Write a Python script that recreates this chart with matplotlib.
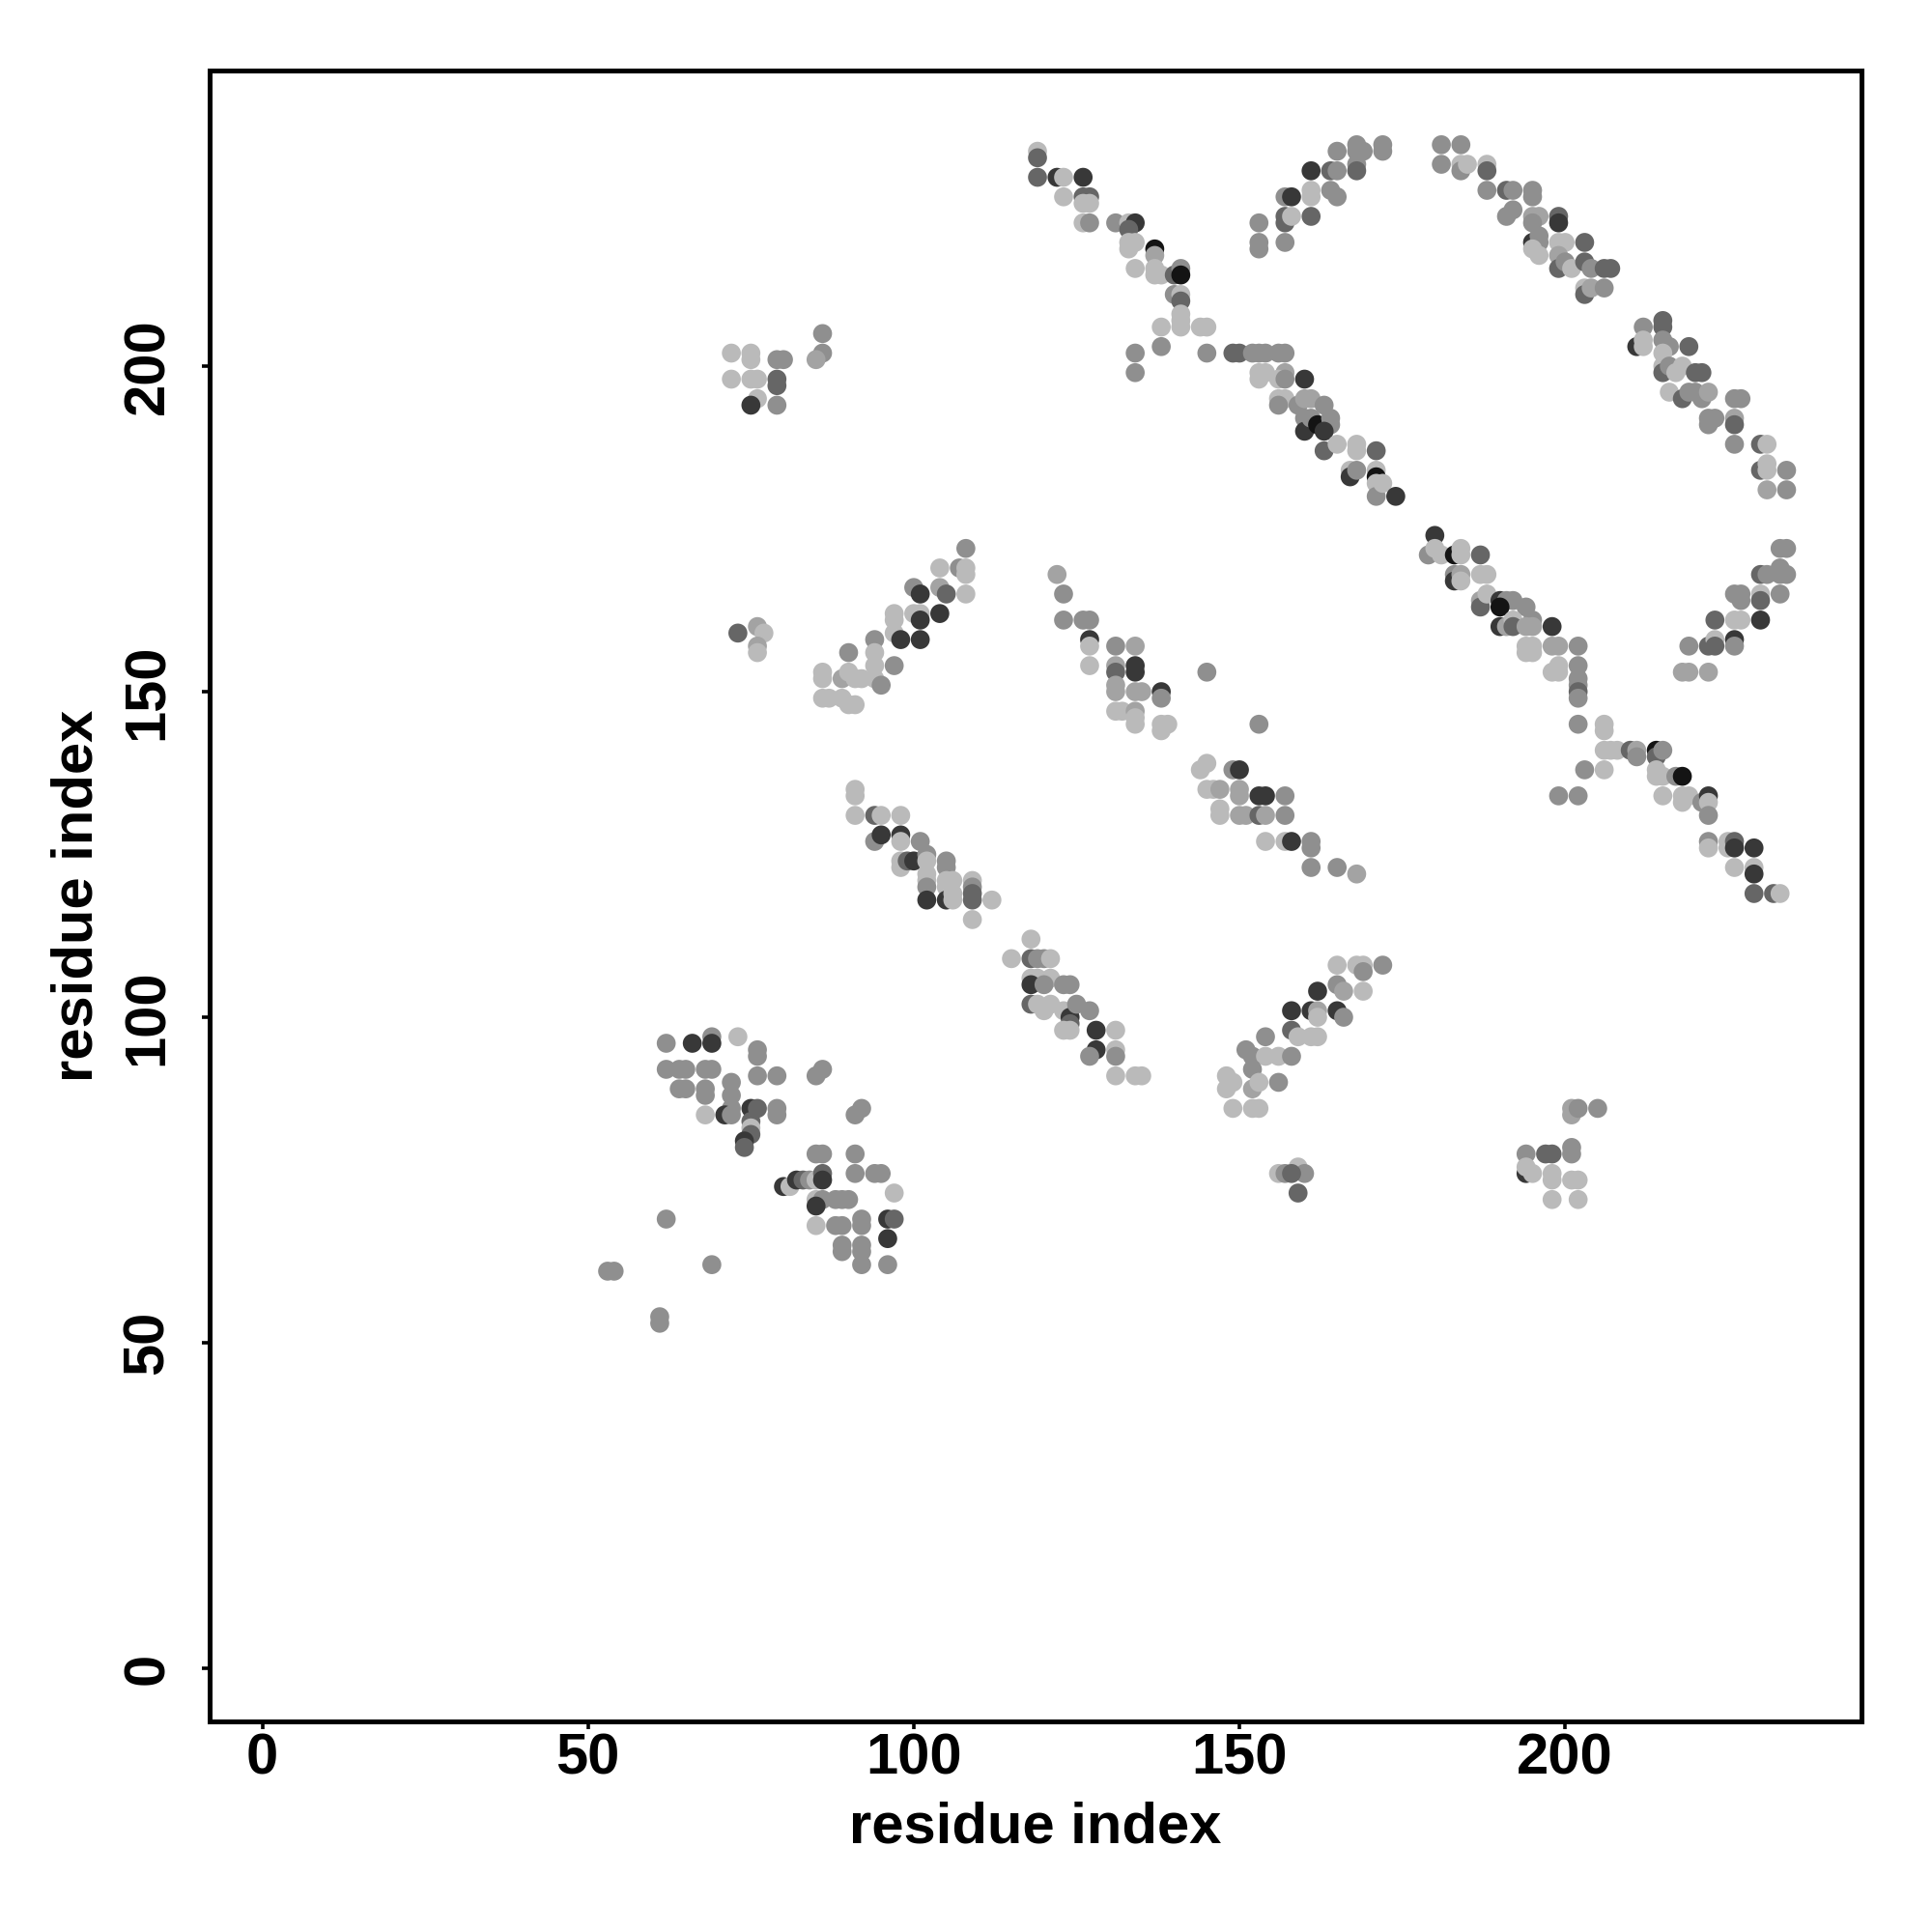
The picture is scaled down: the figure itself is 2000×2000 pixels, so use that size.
import matplotlib
matplotlib.use("Agg")
import matplotlib.pyplot as plt
import numpy as np

# ---- data: contacts (residue i, residue j, contact level) ----
# level codes: k=strongest ... l=weakest
cluster_low_left = [
    (62,96,'m'),(66,96,'d'),(69,97,'m'),(69,96,'d'),(73,97,'l'),(76,95,'m'),(76,94,'m'),
    (62,92,'m'),(64,92,'m'),(65,92,'m'),(68,92,'m'),(69,92,'m'),(76,91,'m'),(79,91,'m'),
    (72,90,'m'),(72,88,'m'),(72,86,'m'),
    (64,89,'m'),(65,89,'m'),(68,89,'m'),(68,88,'m'),
    (85,91,'m'),(86,92,'m'),
    (68,85,'l'),(71,85,'d'),(72,85,'m'),
    (75,86,'d'),(76,86,'dm'),(79,86,'m'),(79,85,'m'),
    (75,84,'dm'),(75,83,'l'),(75,82,'dm'),(74,81,'d'),(74,80,'dm'),
    (91,85,'m'),(92,86,'m'),
    (85,79,'m'),(86,79,'m'),(91,79,'m'),
    (91,76,'m'),(94,76,'m'),(95,76,'m'),
    (80,74,'d'),(81,74,'l'),(82,75,'d'),(83,75,'dm'),(84,75,'m'),(85,75,'l'),(86,76,'dm'),(86,75,'d'),
    (97,73,'l'),
    (85,72,'l'),(86,72,'m'),(85,71,'d'),(88,72,'m'),(89,72,'m'),(90,72,'m'),
    (92,69,'m'),(92,68,'m'),(96,69,'d'),(97,69,'dm'),(96,66,'d'),
    (85,68,'l'),(88,68,'m'),(89,68,'m'),
    (89,65,'m'),(89,64,'m'),(92,65,'m'),(92,64,'m'),(92,62,'m'),(96,62,'m'),
    (53,61,'m'),(54,61,'m'),(62,69,'m'),(69,62,'m'),(61,54,'m'),(61,53,'m'),
]

cluster_low_mid = [
    (118,112,'l'),(115,109,'l'),(118,109,'dm'),(119,109,'m'),(120,109,'m'),(121,109,'l'),
    (118,106,'l'),(119,106,'l'),(121,106,'l'),(118,105,'d'),(120,105,'m'),(123,105,'m'),(124,105,'m'),
    (118,102,'dm'),(119,102,'l'),(120,101,'l'),(121,102,'l'),(123,101,'l'),(124,100,'d'),(125,102,'m'),(127,101,'m'),
    (124,99,'dm'),(123,98,'l'),(124,98,'l'),
    (128,98,'d'),(131,98,'l'),(128,95,'d'),(127,94,'m'),(131,95,'l'),(131,94,'m'),
    (131,91,'l'),(134,91,'l'),(135,91,'l'),
    (165,108,'l'),(168,108,'l'),(169,108,'l'),(169,107,'m'),(172,108,'m'),
    (162,104,'d'),(165,105,'m'),(166,104,'lm'),(169,104,'l'),
    (158,101,'d'),(161,101,'d'),(162,101,'lm'),(162,100,'l'),(165,101,'d'),(166,100,'m'),
    (158,98,'dm'),(159,97,'l'),(161,97,'l'),(162,97,'l'),(154,97,'m'),
    (151,95,'m'),(152,94,'m'),(154,94,'l'),(156,94,'l'),(158,94,'m'),
    (148,91,'l'),(148,89,'l'),(149,90,'l'),(149,86,'l'),(152,92,'m'),(152,89,'lm'),(153,90,'l'),
    (156,90,'m'),(152,86,'l'),(153,86,'l'),
    (156,76,'l'),(157,76,'m'),(159,77,'l'),(160,76,'m'),(158,76,'dm'),(159,73,'dm'),
]

cluster_low_right = [
    (201,86,'lm'),(201,85,'lm'),(202,86,'m'),(205,86,'m'),
    (194,79,'m'),(197,79,'dm'),(198,79,'dm'),(201,80,'m'),(201,79,'m'),
    (194,76,'d'),(194,77,'l'),(195,76,'l'),(198,76,'l'),(198,75,'l'),(201,75,'l'),(202,75,'l'),
    (198,72,'l'),(202,72,'l'),
]

cluster_mid_left = [
    (73,159,'dm'),(76,160,'lm'),(77,159,'l'),(76,157,'lm'),(76,156,'l'),
    (108,172,'m'),(104,169,'l'),(107,169,'m'),(108,169,'l'),(108,168,'l'),
    (100,166,'m'),(101,165,'d'),(104,166,'lm'),(105,165,'dm'),(108,165,'l'),
    (97,162,'l'),(97,161,'l'),(97,159,'l'),(100,162,'l'),(101,162,'l'),(101,161,'d'),(104,162,'d'),
    (98,158,'d'),(101,158,'d'),
    (94,158,'m'),(94,156,'l'),(94,154,'l'),(94,152,'l'),(95,151,'m'),(97,154,'m'),(90,156,'m'),
    (86,153,'l'),(86,152,'l'),(89,152,'lm'),(90,153,'l'),(91,152,'l'),(92,152,'l'),
    (86,149,'l'),(87,149,'l'),(89,149,'l'),(90,148,'l'),(91,148,'l'),
    (91,135,'l'),(91,134,'l'),(91,131,'l'),(94,131,'dm'),(95,131,'l'),(98,131,'l'),
    (94,127,'m'),(95,128,'d'),(98,128,'d'),(98,127,'l'),(101,127,'m'),
    (98,124,'l'),(98,123,'l'),(99,124,'dm'),(100,124,'d'),(102,125,'m'),(102,124,'l'),
    (102,122,'l'),(102,121,'l'),(102,120,'m'),(102,118,'d'),
    (105,124,'m'),(105,123,'m'),(105,121,'l'),(105,120,'l'),(105,118,'d'),
    (106,121,'l'),(106,119,'l'),(106,118,'l'),
    (109,121,'l'),(109,120,'m'),(109,119,'dm'),(109,118,'dm'),(109,115,'l'),
    (112,118,'l'),
]

cluster_mid_center = [
    (122,168,'lm'),(123,165,'m'),(123,161,'m'),(126,161,'m'),(127,161,'m'),
    (127,158,'d'),(127,157,'l'),(127,154,'l'),
    (131,157,'m'),(134,157,'lm'),
    (131,154,'lm'),(131,153,'dm'),(134,154,'d'),(134,153,'d'),
    (131,151,'lm'),(131,150,'lm'),(134,150,'lm'),(135,150,'lm'),(138,150,'d'),(138,149,'m'),
    (131,147,'l'),(132,147,'l'),(134,147,'lm'),(134,146,'l'),(134,145,'l'),(138,145,'l'),
    (138,144,'l'),(139,145,'l'),
    (145,153,'m'),(153,145,'m'),
    (145,139,'l'),(144,138,'l'),(149,138,'m'),(150,138,'d'),
    (145,135,'l'),(146,135,'l'),(147,135,'lm'),(150,135,'lm'),(150,134,'lm'),(153,134,'d'),
    (154,134,'d'),(157,134,'m'),
    (147,132,'l'),(147,131,'l'),(150,131,'lm'),(151,131,'lm'),(153,131,'dm'),(154,131,'lm'),(157,131,'m'),
    (154,127,'l'),(157,127,'l'),(158,127,'d'),(161,127,'m'),(161,126,'m'),
    (161,123,'m'),(165,123,'m'),(168,122,'lm'),
]

cluster_mid_right = [
    (180,174,'d'),
    (179,171,'m'),(180,172,'l'),(181,171,'l'),(183,171,'k'),(184,172,'l'),(184,171,'l'),(187,171,'dm'),
    (183,168,'m'),(183,167,'d'),(184,168,'lm'),(184,167,'l'),(187,168,'l'),(188,168,'l'),
    (187,164,'lm'),(187,163,'dm'),(188,165,'l'),
    (190,164,'d'),(191,164,'m'),(192,164,'m'),(190,163,'k'),(194,163,'m'),(195,161,'m'),
    (190,160,'d'),(191,160,'lm'),(192,161,'l'),(192,160,'dm'),(194,160,'lm'),(195,160,'lm'),(198,160,'d'),
    (194,157,'l'),(194,156,'l'),(195,157,'l'),(195,156,'l'),(198,157,'lm'),(199,157,'lm'),
    (198,153,'l'),(199,153,'l'),(199,154,'l'),
    (202,157,'m'),(202,154,'m'),(202,152,'m'),(202,151,'m'),(202,150,'dm'),(202,149,'m'),
    (202,145,'m'),(206,145,'l'),(206,144,'l'),
    (206,141,'l'),(207,141,'l'),(208,141,'l'),(210,141,'dm'),(211,141,'lm'),(211,140,'m'),
    (214,141,'k'),(214,140,'dm'),(215,141,'m'),
    (203,138,'m'),(206,138,'l'),
    (214,138,'l'),(214,137,'l'),(215,137,'l'),(217,137,'m'),(218,137,'k'),
    (199,134,'m'),(202,134,'m'),
    (215,134,'l'),(218,134,'l'),(218,133,'l'),(219,134,'l'),(221,133,'m'),(222,134,'d'),
    (222,133,'l'),(222,131,'m'),
    (222,127,'m'),(222,126,'l'),(225,127,'l'),(225,126,'l'),(226,127,'dm'),(226,126,'d'),(229,126,'d'),
    (226,123,'l'),(229,123,'l'),(229,122,'d'),
    (229,119,'dm'),(232,119,'dm'),(233,119,'l'),
    (233,172,'m'),(234,172,'m'),
    (230,168,'dm'),(231,168,'m'),(233,169,'m'),(233,168,'m'),(234,168,'m'),
    (226,165,'m'),(227,165,'m'),(227,164,'m'),(230,165,'l'),(230,164,'dm'),(233,165,'m'),
    (223,161,'dm'),(226,161,'l'),(227,161,'l'),(230,161,'d'),
    (219,157,'m'),(222,157,'dm'),(223,158,'l'),(223,157,'dm'),(226,158,'d'),(226,157,'m'),
    (218,153,'lm'),(219,153,'lm'),(222,153,'lm'),
]

cluster_top_left = [
    (72,202,'l'),(75,202,'l'),(75,201,'l'),(79,201,'m'),(80,201,'m'),
    (86,205,'m'),(86,202,'m'),(85,201,'lm'),
    (72,198,'l'),(75,198,'l'),(76,198,'l'),(79,198,'dm'),(79,197,'dm'),
    (76,195,'l'),(75,194,'d'),(79,194,'m'),
]

cluster_top_center = [
    (119,233,'l'),(119,232,'dm'),
    (119,229,'dm'),(122,229,'d'),(123,229,'l'),(126,229,'d'),
    (123,226,'l'),(126,226,'dm'),(127,226,'dm'),(126,225,'l'),(127,225,'l'),
    (126,222,'l'),(127,222,'m'),(131,222,'m'),(133,222,'l'),(134,222,'d'),(133,221,'dm'),
    (133,219,'l'),(134,219,'l'),(133,218,'l'),(137,218,'k'),(137,217,'lm'),
    (134,215,'l'),(137,215,'l'),(137,214,'l'),(138,214,'l'),(140,214,'dm'),(141,215,'m'),(141,214,'k'),
    (140,211,'m'),(141,211,'l'),(141,210,'dm'),
    (141,208,'l'),(141,207,'l'),(141,206,'l'),
    (138,206,'l'),(144,206,'l'),(145,206,'l'),
    (138,203,'m'),(134,202,'m'),(134,199,'m'),(145,202,'m'),
    (149,202,'dm'),(150,202,'dm'),(152,202,'m'),(153,202,'m'),(154,202,'m'),(156,202,'m'),(157,202,'m'),
    (153,199,'l'),(154,199,'l'),(153,198,'l'),(157,199,'lm'),(160,198,'d'),(156,198,'l'),(157,198,'m'),
    (156,195,'l'),(157,195,'l'),(156,194,'m'),(159,194,'m'),(160,195,'lm'),(161,195,'lm'),(163,194,'m'),
    (160,192,'m'),(160,190,'d'),(161,192,'m'),(162,191,'k'),(164,192,'m'),(164,191,'m'),(163,190,'d'),
    (163,187,'dm'),(165,188,'l'),(168,188,'l'),(168,187,'l'),(171,187,'dm'),
    (167,184,'l'),(167,183,'d'),(168,184,'m'),(171,184,'l'),(171,183,'k'),(171,182,'l'),
    (171,180,'m'),(172,182,'l'),(174,180,'d'),
    (165,233,'m'),(168,234,'m'),(168,233,'m'),(169,233,'m'),(172,234,'m'),(172,233,'m'),
    (161,230,'d'),(164,230,'dm'),(165,230,'m'),(168,231,'m'),(168,230,'dm'),
    (157,226,'m'),(158,226,'d'),(161,227,'l'),(161,226,'l'),(164,227,'m'),(165,226,'m'),
    (157,223,'dm'),(157,222,'dm'),(158,223,'l'),(161,223,'dm'),(153,222,'m'),
    (153,219,'m'),(153,218,'m'),(157,219,'m'),
]

cluster_top_right = [
    (181,234,'m'),(184,234,'m'),
    (181,231,'m'),(184,231,'l'),(184,230,'m'),(185,231,'l'),(188,231,'l'),(188,230,'dm'),
    (188,227,'m'),(191,227,'dm'),(192,227,'m'),(195,227,'m'),(195,226,'m'),
    (191,223,'m'),(192,224,'m'),(195,223,'lm'),(196,223,'lm'),(195,222,'m'),(199,223,'dm'),(199,222,'d'),
    (195,219,'d'),(196,220,'m'),(196,219,'m'),(196,217,'l'),(195,218,'l'),(199,219,'l'),(200,219,'l'),
    (203,219,'dm'),
    (199,217,'lm'),(199,215,'dm'),(200,216,'m'),(201,215,'l'),(203,216,'dm'),(204,215,'m'),
    (206,215,'dm'),(207,215,'dm'),
    (203,212,'l'),(203,211,'dm'),(204,212,'lm'),(206,212,'m'),
    (212,206,'m'),(215,207,'dm'),(215,206,'dm'),(211,203,'d'),(212,204,'l'),(212,203,'l'),
    (215,204,'m'),(216,203,'m'),(219,203,'dm'),(215,202,'l'),
    (215,200,'l'),(215,199,'dm'),(216,200,'m'),(217,199,'l'),(218,200,'l'),(220,199,'dm'),(221,199,'dm'),
    (216,196,'l'),(218,195,'dm'),(219,196,'m'),(220,196,'m'),(221,195,'m'),(222,196,'lm'),
    (226,195,'m'),(227,195,'m'),
    (222,192,'m'),(223,192,'m'),(222,191,'m'),(226,192,'lm'),(226,191,'dm'),
    (226,188,'m'),(230,188,'dm'),(231,188,'l'),
    (230,184,'dm'),(231,185,'l'),(231,184,'l'),(234,184,'m'),
    (231,181,'lm'),(234,181,'m'),
]

level_grey = {'k': 0.08, 'd': 0.22, 'dm': 0.40, 'm': 0.56, 'lm': 0.64, 'l': 0.73}

x_ticks = [0, 50, 100, 150, 200]
y_ticks = [0, 50, 100, 150, 200]
x_label = "residue index"
y_label = "residue index"

# ---- assemble ----
clusters = [cluster_low_left, cluster_low_mid, cluster_low_right, cluster_mid_left,
            cluster_mid_center, cluster_mid_right, cluster_top_left, cluster_top_center,
            cluster_top_right]
pts = [p for c in clusters for p in c]
xi = np.array([p[0] for p in pts], dtype=float)
yj = np.array([p[1] for p in pts], dtype=float)
cols = [str(level_grey[p[2]]) for p in pts]

plt.rcParams['font.family'] = ['Liberation Sans', 'DejaVu Sans']
plt.rcParams['font.weight'] = 'bold'

fig = plt.figure(figsize=(10, 10), dpi=200)
ax = fig.add_axes([0.1085, 0.109, 0.855, 0.8545])

ax.scatter(xi, yj, s=50, c=cols, edgecolors='none', zorder=2)

ax.set_xlim(-8.1, 245.5)
ax.set_ylim(-8.15, 245.4)
ax.set_xticks(x_ticks)
ax.set_yticks(y_ticks)
ax.set_xticklabels([str(t) for t in x_ticks], fontsize=21.5, fontweight='bold')
ax.set_yticklabels([str(t) for t in y_ticks], fontsize=21.5, fontweight='bold',
                   rotation=90, va='center')

for sp in ax.spines.values():
    sp.set_linewidth(1.8)
    sp.set_color('black')

ax.tick_params(axis='both', direction='out', length=3.0, width=1.3, colors='black')
ax.tick_params(axis='x', pad=1.0)
ax.tick_params(axis='y', pad=10.0)
ax.tick_params(top=False, right=False)

fig.text(0.536, 0.054, x_label, ha='center', va='center', fontsize=21.5, fontweight='bold')
fig.text(0.040, 0.5365, y_label, ha='center', va='center', rotation=90,
         fontsize=21.5, fontweight='bold')

fig.savefig("out.png", dpi=200, facecolor='white')
